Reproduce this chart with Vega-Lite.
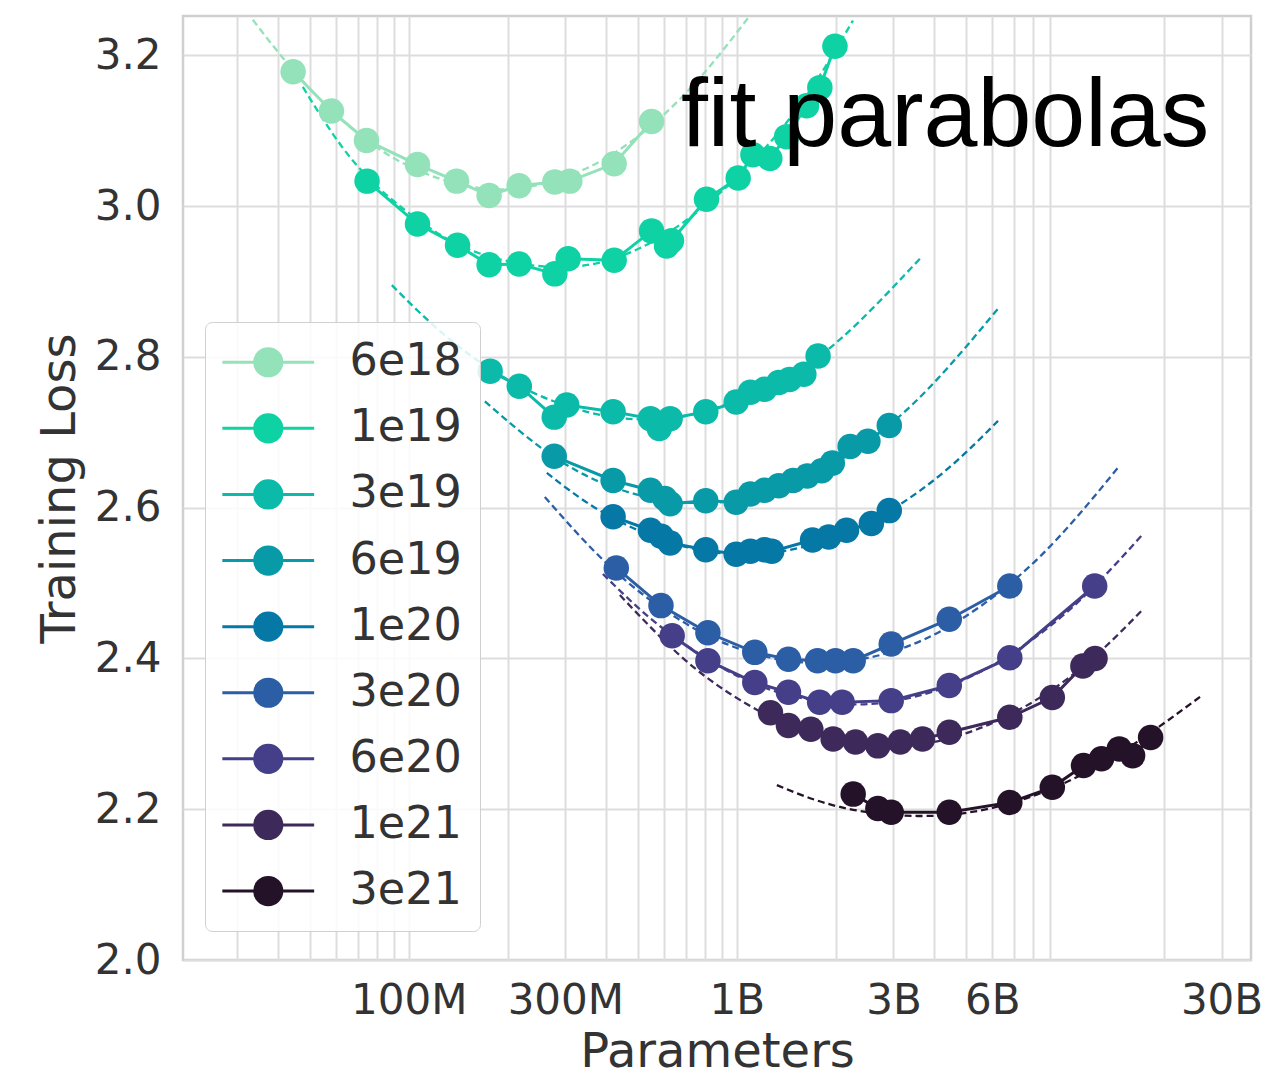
{
  "$schema": "https://vega.github.io/schema/vega-lite/v6.json",
  "width": 1068,
  "height": 944,
  "autosize": {"type": "none"},
  "padding": {"left": 183, "top": 16, "right": 15, "bottom": 119},
  "background": "white",
  "config": {
    "view": {"stroke": "#cfcfcf", "strokeWidth": 2.5},
    "axis": {
      "labelFont": "DejaVu Sans", "titleFont": "DejaVu Sans",
      "labelColor": "#333333", "titleColor": "#333333",
      "labelFontSize": 42, "titleFontSize": 48, "titleFontWeight": "normal",
      "gridColor": "#dddddd", "gridWidth": 2, "domain": false, "ticks": false
    },
    "legend": {
      "orient": "none",
      "labelFont": "DejaVu Sans", "labelFontSize": 44.5, "labelColor": "#333333",
      "symbolType": "M-2.7,0L2.7,0M-0.8,0A0.8,0.8 0 1,0 0.8,0A0.8,0.8 0 1,0 -0.8,0Z",
      "symbolSize": 1156, "symbolStrokeWidth": 3,
      "fillColor": "rgba(255,255,255,0.85)", "strokeColor": "#d0d0d0", "cornerRadius": 7,
      "padding": 18, "rowPadding": 21.1, "labelOffset": 59, "symbolOffset": 23
    }
  },
  "datasets": {
    "points": [
      {"flops": "6e18", "params": 4.44e7, "loss": 3.178},
      {"flops": "6e18", "params": 5.81e7, "loss": 3.126},
      {"flops": "6e18", "params": 7.43e7, "loss": 3.087},
      {"flops": "6e18", "params": 1.063e8, "loss": 3.055},
      {"flops": "6e18", "params": 1.398e8, "loss": 3.033},
      {"flops": "6e18", "params": 1.757e8, "loss": 3.014},
      {"flops": "6e18", "params": 2.169e8, "loss": 3.027},
      {"flops": "6e18", "params": 2.787e8, "loss": 3.032},
      {"flops": "6e18", "params": 3.096e8, "loss": 3.033},
      {"flops": "6e18", "params": 4.226e8, "loss": 3.056},
      {"flops": "6e18", "params": 5.495e8, "loss": 3.112},
      {"flops": "1e19", "params": 7.46e7, "loss": 3.033},
      {"flops": "1e19", "params": 1.063e8, "loss": 2.976},
      {"flops": "1e19", "params": 1.408e8, "loss": 2.948},
      {"flops": "1e19", "params": 1.757e8, "loss": 2.922},
      {"flops": "1e19", "params": 2.169e8, "loss": 2.923},
      {"flops": "1e19", "params": 2.787e8, "loss": 2.910},
      {"flops": "1e19", "params": 3.06e8, "loss": 2.930},
      {"flops": "1e19", "params": 4.226e8, "loss": 2.928},
      {"flops": "1e19", "params": 5.495e8, "loss": 2.967},
      {"flops": "1e19", "params": 6.105e8, "loss": 2.947},
      {"flops": "1e19", "params": 6.32e8, "loss": 2.954},
      {"flops": "1e19", "params": 8.08e8, "loss": 3.009},
      {"flops": "1e19", "params": 1.009e9, "loss": 3.037},
      {"flops": "1e19", "params": 1.119e9, "loss": 3.068},
      {"flops": "1e19", "params": 1.26e9, "loss": 3.063},
      {"flops": "1e19", "params": 1.418e9, "loss": 3.092},
      {"flops": "1e19", "params": 1.631e9, "loss": 3.133},
      {"flops": "1e19", "params": 1.79e9, "loss": 3.157},
      {"flops": "1e19", "params": 1.99e9, "loss": 3.212},
      {"flops": "3e19", "params": 1.77e8, "loss": 2.781},
      {"flops": "3e19", "params": 2.172e8, "loss": 2.761},
      {"flops": "3e19", "params": 2.775e8, "loss": 2.720},
      {"flops": "3e19", "params": 3.03e8, "loss": 2.736},
      {"flops": "3e19", "params": 4.195e8, "loss": 2.727},
      {"flops": "3e19", "params": 5.45e8, "loss": 2.718},
      {"flops": "3e19", "params": 5.8e8, "loss": 2.705},
      {"flops": "3e19", "params": 6.26e8, "loss": 2.718},
      {"flops": "3e19", "params": 8.04e8, "loss": 2.727},
      {"flops": "3e19", "params": 9.95e8, "loss": 2.740},
      {"flops": "3e19", "params": 1.099e9, "loss": 2.753},
      {"flops": "3e19", "params": 1.215e9, "loss": 2.757},
      {"flops": "3e19", "params": 1.342e9, "loss": 2.766},
      {"flops": "3e19", "params": 1.447e9, "loss": 2.770},
      {"flops": "3e19", "params": 1.6e9, "loss": 2.777},
      {"flops": "3e19", "params": 1.768e9, "loss": 2.801},
      {"flops": "6e19", "params": 2.775e8, "loss": 2.668},
      {"flops": "6e19", "params": 4.195e8, "loss": 2.636},
      {"flops": "6e19", "params": 5.45e8, "loss": 2.623},
      {"flops": "6e19", "params": 6.03e8, "loss": 2.612},
      {"flops": "6e19", "params": 6.26e8, "loss": 2.605},
      {"flops": "6e19", "params": 8.04e8, "loss": 2.609},
      {"flops": "6e19", "params": 9.95e8, "loss": 2.607},
      {"flops": "6e19", "params": 1.099e9, "loss": 2.618},
      {"flops": "6e19", "params": 1.215e9, "loss": 2.623},
      {"flops": "6e19", "params": 1.342e9, "loss": 2.629},
      {"flops": "6e19", "params": 1.484e9, "loss": 2.636},
      {"flops": "6e19", "params": 1.639e9, "loss": 2.642},
      {"flops": "6e19", "params": 1.813e9, "loss": 2.649},
      {"flops": "6e19", "params": 1.954e9, "loss": 2.659},
      {"flops": "6e19", "params": 2.214e9, "loss": 2.681},
      {"flops": "6e19", "params": 2.508e9, "loss": 2.688},
      {"flops": "6e19", "params": 2.914e9, "loss": 2.709},
      {"flops": "1e20", "params": 4.195e8, "loss": 2.588},
      {"flops": "1e20", "params": 5.45e8, "loss": 2.570},
      {"flops": "1e20", "params": 5.88e8, "loss": 2.562},
      {"flops": "1e20", "params": 6.26e8, "loss": 2.553},
      {"flops": "1e20", "params": 8.04e8, "loss": 2.544},
      {"flops": "1e20", "params": 9.95e8, "loss": 2.538},
      {"flops": "1e20", "params": 1.099e9, "loss": 2.542},
      {"flops": "1e20", "params": 1.215e9, "loss": 2.544},
      {"flops": "1e20", "params": 1.277e9, "loss": 2.542},
      {"flops": "1e20", "params": 1.7e9, "loss": 2.557},
      {"flops": "1e20", "params": 1.905e9, "loss": 2.561},
      {"flops": "1e20", "params": 2.159e9, "loss": 2.570},
      {"flops": "1e20", "params": 2.57e9, "loss": 2.579},
      {"flops": "1e20", "params": 2.914e9, "loss": 2.596},
      {"flops": "3e20", "params": 4.29e8, "loss": 2.520},
      {"flops": "3e20", "params": 5.87e8, "loss": 2.470},
      {"flops": "3e20", "params": 8.16e8, "loss": 2.434},
      {"flops": "3e20", "params": 1.134e9, "loss": 2.408},
      {"flops": "3e20", "params": 1.436e9, "loss": 2.399},
      {"flops": "3e20", "params": 1.761e9, "loss": 2.397},
      {"flops": "3e20", "params": 1.997e9, "loss": 2.397},
      {"flops": "3e20", "params": 2.262e9, "loss": 2.397},
      {"flops": "3e20", "params": 2.954e9, "loss": 2.419},
      {"flops": "3e20", "params": 4.44e9, "loss": 2.452},
      {"flops": "3e20", "params": 6.79e9, "loss": 2.496},
      {"flops": "6e20", "params": 6.35e8, "loss": 2.430},
      {"flops": "6e20", "params": 8.16e8, "loss": 2.397},
      {"flops": "6e20", "params": 1.134e9, "loss": 2.368},
      {"flops": "6e20", "params": 1.436e9, "loss": 2.355},
      {"flops": "6e20", "params": 1.788e9, "loss": 2.342},
      {"flops": "6e20", "params": 2.093e9, "loss": 2.342},
      {"flops": "6e20", "params": 2.954e9, "loss": 2.344},
      {"flops": "6e20", "params": 4.44e9, "loss": 2.364},
      {"flops": "6e20", "params": 6.79e9, "loss": 2.401},
      {"flops": "6e20", "params": 1.232e10, "loss": 2.496},
      {"flops": "1e21", "params": 1.266e9, "loss": 2.328},
      {"flops": "1e21", "params": 1.436e9, "loss": 2.311},
      {"flops": "1e21", "params": 1.68e9, "loss": 2.306},
      {"flops": "1e21", "params": 1.965e9, "loss": 2.293},
      {"flops": "1e21", "params": 2.299e9, "loss": 2.289},
      {"flops": "1e21", "params": 2.69e9, "loss": 2.284},
      {"flops": "1e21", "params": 3.147e9, "loss": 2.289},
      {"flops": "1e21", "params": 3.68e9, "loss": 2.293},
      {"flops": "1e21", "params": 4.44e9, "loss": 2.302},
      {"flops": "1e21", "params": 6.79e9, "loss": 2.322},
      {"flops": "1e21", "params": 9.15e9, "loss": 2.348},
      {"flops": "1e21", "params": 1.134e10, "loss": 2.390},
      {"flops": "1e21", "params": 1.235e10, "loss": 2.400},
      {"flops": "3e21", "params": 2.262e9, "loss": 2.220},
      {"flops": "3e21", "params": 2.69e9, "loss": 2.201},
      {"flops": "3e21", "params": 2.954e9, "loss": 2.196},
      {"flops": "3e21", "params": 4.44e9, "loss": 2.196},
      {"flops": "3e21", "params": 6.79e9, "loss": 2.209},
      {"flops": "3e21", "params": 9.15e9, "loss": 2.229},
      {"flops": "3e21", "params": 1.139e10, "loss": 2.258},
      {"flops": "3e21", "params": 1.292e10, "loss": 2.267},
      {"flops": "3e21", "params": 1.464e10, "loss": 2.280},
      {"flops": "3e21", "params": 1.608e10, "loss": 2.271},
      {"flops": "3e21", "params": 1.824e10, "loss": 2.295}
    ],
    "fits": [
      {"flops": "6e18", "params": 3.345e7, "loss": 3.247},
      {"flops": "6e18", "params": 4.653e7, "loss": 3.170},
      {"flops": "6e18", "params": 6.61e7, "loss": 3.105},
      {"flops": "6e18", "params": 9.39e7, "loss": 3.059},
      {"flops": "6e18", "params": 1.334e8, "loss": 3.032},
      {"flops": "6e18", "params": 1.894e8, "loss": 3.022},
      {"flops": "6e18", "params": 2.69e8, "loss": 3.032},
      {"flops": "6e18", "params": 3.822e8, "loss": 3.059},
      {"flops": "6e18", "params": 5.43e8, "loss": 3.105},
      {"flops": "6e18", "params": 7.71e8, "loss": 3.170},
      {"flops": "6e18", "params": 1.08e9, "loss": 3.249},
      {"flops": "1e19", "params": 4.752e7, "loss": 3.158},
      {"flops": "1e19", "params": 6.942e7, "loss": 3.054},
      {"flops": "1e19", "params": 1.08e8, "loss": 2.980},
      {"flops": "1e19", "params": 1.646e8, "loss": 2.937},
      {"flops": "1e19", "params": 2.787e8, "loss": 2.919},
      {"flops": "1e19", "params": 4.398e8, "loss": 2.933},
      {"flops": "1e19", "params": 6.7e8, "loss": 2.975},
      {"flops": "1e19", "params": 1.021e9, "loss": 3.042},
      {"flops": "1e19", "params": 1.556e9, "loss": 3.134},
      {"flops": "1e19", "params": 2.258e9, "loss": 3.246},
      {"flops": "3e19", "params": 8.877e7, "loss": 2.895},
      {"flops": "3e19", "params": 1.334e8, "loss": 2.823},
      {"flops": "3e19", "params": 2.18e8, "loss": 2.761},
      {"flops": "3e19", "params": 3.563e8, "loss": 2.726},
      {"flops": "3e19", "params": 5.242e8, "loss": 2.717},
      {"flops": "3e19", "params": 7.71e8, "loss": 2.726},
      {"flops": "3e19", "params": 1.261e9, "loss": 2.761},
      {"flops": "3e19", "params": 2.061e9, "loss": 2.823},
      {"flops": "3e19", "params": 3.664e9, "loss": 2.933},
      {"flops": "6e19", "params": 1.705e8, "loss": 2.741},
      {"flops": "6e19", "params": 2.69e8, "loss": 2.671},
      {"flops": "6e19", "params": 4.398e8, "loss": 2.624},
      {"flops": "6e19", "params": 7.71e8, "loss": 2.606},
      {"flops": "6e19", "params": 1.352e9, "loss": 2.624},
      {"flops": "6e19", "params": 2.371e9, "loss": 2.680},
      {"flops": "6e19", "params": 3.877e9, "loss": 2.760},
      {"flops": "6e19", "params": 6.337e9, "loss": 2.867},
      {"flops": "1e20", "params": 2.634e8, "loss": 2.646},
      {"flops": "1e20", "params": 3.822e8, "loss": 2.596},
      {"flops": "1e20", "params": 6.247e8, "loss": 2.554},
      {"flops": "1e20", "params": 1.058e9, "loss": 2.538},
      {"flops": "1e20", "params": 1.791e9, "loss": 2.554},
      {"flops": "1e20", "params": 2.927e9, "loss": 2.596},
      {"flops": "1e20", "params": 4.46e9, "loss": 2.654},
      {"flops": "1e20", "params": 6.25e9, "loss": 2.715},
      {"flops": "3e20", "params": 2.597e8, "loss": 2.614},
      {"flops": "3e20", "params": 4.101e8, "loss": 2.522},
      {"flops": "3e20", "params": 6.7e8, "loss": 2.451},
      {"flops": "3e20", "params": 1.095e9, "loss": 2.408},
      {"flops": "3e20", "params": 1.791e9, "loss": 2.394},
      {"flops": "3e20", "params": 2.927e9, "loss": 2.408},
      {"flops": "3e20", "params": 4.784e9, "loss": 2.451},
      {"flops": "3e20", "params": 8.39e9, "loss": 2.535},
      {"flops": "3e20", "params": 1.451e10, "loss": 2.653},
      {"flops": "6e20", "params": 3.904e8, "loss": 2.512},
      {"flops": "6e20", "params": 5.824e8, "loss": 2.443},
      {"flops": "6e20", "params": 9.52e8, "loss": 2.382},
      {"flops": "6e20", "params": 1.451e9, "loss": 2.351},
      {"flops": "6e20", "params": 2.29e9, "loss": 2.339},
      {"flops": "6e20", "params": 3.613e9, "loss": 2.351},
      {"flops": "6e20", "params": 5.906e9, "loss": 2.389},
      {"flops": "6e20", "params": 1.036e10, "loss": 2.465},
      {"flops": "6e20", "params": 1.729e10, "loss": 2.565},
      {"flops": "1e21", "params": 4.398e8, "loss": 2.484},
      {"flops": "1e21", "params": 6.7e8, "loss": 2.404},
      {"flops": "1e21", "params": 1.021e9, "loss": 2.345},
      {"flops": "1e21", "params": 1.669e9, "loss": 2.301},
      {"flops": "1e21", "params": 2.886e9, "loss": 2.284},
      {"flops": "1e21", "params": 4.784e9, "loss": 2.298},
      {"flops": "1e21", "params": 7.823e9, "loss": 2.340},
      {"flops": "1e21", "params": 1.192e10, "loss": 2.397},
      {"flops": "1e21", "params": 1.729e10, "loss": 2.465},
      {"flops": "3e21", "params": 1.324e9, "loss": 2.232},
      {"flops": "3e21", "params": 2.061e9, "loss": 2.203},
      {"flops": "3e21", "params": 3.562e9, "loss": 2.191},
      {"flops": "3e21", "params": 5.906e9, "loss": 2.201},
      {"flops": "3e21", "params": 9.656e9, "loss": 2.232},
      {"flops": "3e21", "params": 1.578e10, "loss": 2.283},
      {"flops": "3e21", "params": 2.58e10, "loss": 2.349}
    ]
  },
  "layer": [
    {
      "data": {"name": "fits"},
      "mark": {"type": "line", "strokeDash": [7, 4], "strokeWidth": 2.3, "interpolate": "natural", "clip": true},
      "encoding": {
        "x": {
          "field": "params", "type": "quantitative",
          "scale": {"type": "log", "domain": [2.05e7, 3.69e10], "nice": false},
          "axis": {
            "title": "Parameters",
            "values": [3e7, 4e7, 5e7, 6e7, 7e7, 8e7, 9e7, 1e8, 2e8, 3e8, 4e8, 5e8, 6e8, 7e8, 8e8, 9e8, 1e9, 2e9, 3e9, 4e9, 5e9, 6e9, 7e9, 8e9, 9e9, 2e10, 3e10],
            "labelExpr": "datum.value == 1e8 ? '100M' : datum.value == 3e8 ? '300M' : datum.value == 1e9 ? '1B' : datum.value == 3e9 ? '3B' : datum.value == 6e9 ? '6B' : datum.value == 3e10 ? '30B' : ''",
            "labelOverlap": false, "labelFlush": false, "labelPadding": 20, "titlePadding": 7
          }
        },
        "y": {
          "field": "loss", "type": "quantitative",
          "scale": {"domain": [2.0, 3.252], "nice": false, "zero": false},
          "axis": {
            "title": "Training Loss",
            "values": [2.0, 2.2, 2.4, 2.6, 2.8, 3.0, 3.2],
            "format": ".1f", "labelPadding": 22, "titlePadding": 10
          }
        },
        "color": {
          "field": "flops", "type": "nominal",
          "scale": {
            "domain": ["6e18", "1e19", "3e19", "6e19", "1e20", "3e20", "6e20", "1e21", "3e21"],
            "range": ["#94e2ba", "#0ed2a4", "#0cbaa9", "#089aa7", "#0678a6", "#2c5ea6", "#443f88", "#3d2a5a", "#241228"]
          },
          "legend": {
            "title": null, "orient": "none", "legendX": 22, "legendY": 306,
            "encode": {"symbols": {"update": {"fill": {"scale": "color", "field": "value"}, "stroke": {"scale": "color", "field": "value"}, "opacity": {"value": 1}, "strokeDash": {"value": []}}}}
          }
        }
      }
    },
    {
      "data": {"name": "points"},
      "mark": {"type": "line", "strokeWidth": 3},
      "encoding": {
        "x": {"field": "params", "type": "quantitative"},
        "y": {"field": "loss", "type": "quantitative"},
        "color": {
          "field": "flops", "type": "nominal",
          "legend": {
            "title": null, "orient": "none", "legendX": 22, "legendY": 306,
            "encode": {"symbols": {"update": {"fill": {"scale": "color", "field": "value"}, "stroke": {"scale": "color", "field": "value"}, "opacity": {"value": 1}, "strokeDash": {"value": []}}}}
          }
        }
      }
    },
    {
      "data": {"name": "points"},
      "mark": {"type": "point", "filled": true, "size": 650, "opacity": 1},
      "encoding": {
        "x": {"field": "params", "type": "quantitative"},
        "y": {"field": "loss", "type": "quantitative"},
        "color": {
          "field": "flops", "type": "nominal",
          "legend": {
            "title": null, "orient": "none", "legendX": 22, "legendY": 306,
            "encode": {"symbols": {"update": {"fill": {"scale": "color", "field": "value"}, "stroke": {"scale": "color", "field": "value"}, "opacity": {"value": 1}, "strokeDash": {"value": []}}}}
          }
        }
      }
    },
    {
      "data": {"values": [{"label": "fit parabolas"}]},
      "mark": {"type": "text", "font": "Liberation Sans", "fontSize": 97, "align": "left", "baseline": "alphabetic", "color": "#000000"},
      "encoding": {
        "x": {"datum": 6.75e8, "type": "quantitative"},
        "y": {"datum": 3.079, "type": "quantitative"},
        "text": {"field": "label"}
      }
    }
  ]
}
